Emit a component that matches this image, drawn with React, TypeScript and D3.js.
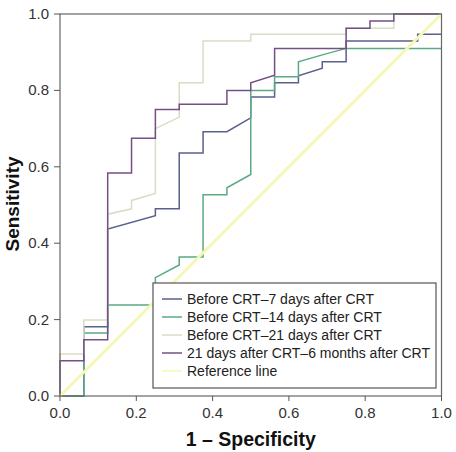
import React from 'react';
import { scaleLinear, line } from 'd3';

const width = 456;
const height = 452;
const margin = { top: 14, right: 14, bottom: 56, left: 60 };

const ticks = [0, 0.2, 0.4, 0.6, 0.8, 1.0];

// ROC points, [1 - specificity, sensitivity]
const before7: [number, number][] = [
  [0, 0], [0.0625, 0], [0.0625, 0.181], [0.125, 0.181], [0.125, 0.437], [0.25, 0.472],
  [0.25, 0.49], [0.3125, 0.49], [0.3125, 0.636], [0.375, 0.636], [0.375, 0.692],
  [0.4375, 0.692], [0.5, 0.728], [0.5, 0.783], [0.5625, 0.783], [0.5625, 0.82],
  [0.625, 0.82], [0.625, 0.838], [0.6875, 0.858], [0.6875, 0.875], [0.75, 0.875],
  [0.75, 0.929], [0.9375, 0.929], [0.9375, 0.947], [1, 0.947]
];
const before14: [number, number][] = [
  [0, 0], [0.0625, 0], [0.0625, 0.165], [0.125, 0.165], [0.125, 0.238], [0.25, 0.238],
  [0.25, 0.31], [0.3125, 0.343], [0.3125, 0.364], [0.375, 0.364], [0.375, 0.527],
  [0.4375, 0.527], [0.4375, 0.545], [0.5, 0.58], [0.5, 0.8], [0.5625, 0.8],
  [0.5625, 0.836], [0.625, 0.836], [0.625, 0.875], [0.6875, 0.893], [0.75, 0.91], [1, 0.91]
];
const before21: [number, number][] = [
  [0, 0], [0, 0.11], [0.0625, 0.11], [0.0625, 0.199], [0.125, 0.199], [0.125, 0.476],
  [0.1875, 0.49], [0.1875, 0.512], [0.25, 0.53], [0.25, 0.7], [0.3125, 0.73],
  [0.3125, 0.82], [0.375, 0.82], [0.375, 0.929], [0.5, 0.929], [0.5, 0.947],
  [0.75, 0.947], [0.75, 0.963], [0.875, 0.963], [0.875, 1], [1, 1]
];
const after21to6m: [number, number][] = [
  [0, 0], [0, 0.092], [0.0625, 0.092], [0.0625, 0.147], [0.125, 0.147], [0.125, 0.584],
  [0.1875, 0.584], [0.1875, 0.675], [0.25, 0.675], [0.25, 0.75], [0.3125, 0.75],
  [0.3125, 0.764], [0.4375, 0.764], [0.4375, 0.8], [0.5, 0.8], [0.5, 0.82],
  [0.5625, 0.84], [0.5625, 0.91], [0.75, 0.91], [0.75, 0.963], [0.8125, 0.963],
  [0.8125, 0.982], [0.875, 0.982], [0.875, 1], [1, 1]
];
const referenceLine: [number, number][] = [[0, 0], [1, 1]];

const series = [
  { name: 'Before CRT\u20137 days after CRT', data: before7, color: '#5a5f8c', w: 1.5 },
  { name: 'Before CRT\u201314 days after CRT', data: before14, color: '#5aaa84', w: 1.5 },
  { name: 'Before CRT\u201321 days after CRT', data: before21, color: '#dadcc6', w: 1.5 },
  { name: '21 days after CRT\u20136 months after CRT', data: after21to6m, color: '#764f84', w: 1.5 },
  { name: 'Reference line', data: referenceLine, color: '#f6f7b4', w: 3 }
];

const App = () => {
  const x = scaleLinear().domain([0, 1]).range([margin.left, width - margin.right - 0.5]);
  const y = scaleLinear().domain([0, 1]).range([height - margin.bottom, margin.top]);
  const lineFn = line<[number, number]>().x(d => x(d[0])).y(d => y(d[1]));

  const font = '"Liberation Sans", Arial, sans-serif';
  const lg = { x: 153, y: 283, w: 283, h: 105 };

  return (
    <svg width={width} height={height} style={{ position: 'absolute', left: 0, top: 0 }} fontFamily={font}>
      <rect width={width} height={height} fill="#fff" />
      {/* curves */}
      <g fill="none">
        {series.map(s => (
          <path key={s.name} d={lineFn(s.data) || ''} stroke={s.color} strokeWidth={s.w} />
        ))}
      </g>
      {/* frame */}
      <rect x={x(0)} y={y(1)} width={x(1) - x(0)} height={y(0) - y(1)} fill="none" stroke="#666" strokeWidth={1.2} />
      {/* x axis */}
      <g>
        {ticks.map(t => (
          <g key={'x' + t}>
            <line x1={x(t)} x2={x(t)} y1={y(0)} y2={y(0) + 5} stroke="#555" />
            <text x={x(t)} y={y(0) + 22} textAnchor="middle" fontSize={15} fill="#333">{t.toFixed(1)}</text>
          </g>
        ))}
      </g>
      {/* y axis */}
      <g>
        {ticks.map(t => (
          <g key={'y' + t}>
            <line x1={x(0) - 6} x2={x(0)} y1={y(t)} y2={y(t)} stroke="#555" />
            <text x={x(0) - 11} y={y(t) + 5} textAnchor="end" fontSize={15} fill="#333">{t.toFixed(1)}</text>
          </g>
        ))}
      </g>
      <text x={(x(0) + x(1)) / 2} y={446} textAnchor="middle" fontSize={19.5} fontWeight="bold" fill="#111">1 – Specificity</text>
      <text transform={`translate(18.5, 204) rotate(-90)`} textAnchor="middle" fontSize={19} fontWeight="bold" fill="#111">Sensitivity</text>
      {/* legend */}
      <g>
        <rect x={lg.x} y={lg.y} width={lg.w} height={lg.h} fill="#fff" stroke="#555" strokeWidth={1.2} />
        {series.map((s, i) => (
          <g key={'lg' + i} transform={`translate(${lg.x}, ${lg.y + 16 + i * 18})`}>
            <line x1={9} x2={29} y1={0} y2={0} stroke={s.color} strokeWidth={1.5} />
            <text x={34} y={5} fontSize={14} fill="#222">{s.name}</text>
          </g>
        ))}
      </g>
    </svg>
  );
};

export default App;
